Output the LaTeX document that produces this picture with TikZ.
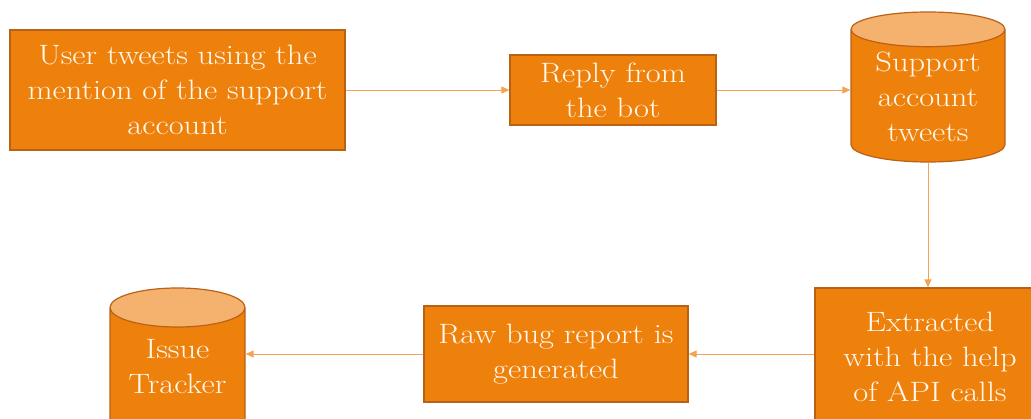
\documentclass[tikz,border=0pt]{standalone}
\usepackage{fontspec}
\setmainfont{Latin Modern Roman}[FakeStretch=1.16]
\usetikzlibrary{shapes.geometric,arrows.meta}
\definecolor{boxfill}{RGB}{238,128,12}
\definecolor{boxline}{RGB}{185,98,22}
\definecolor{capfill}{RGB}{245,178,110}
\definecolor{arrowcol}{RGB}{243,162,86}
\definecolor{boxtext}{RGB}{255,248,236}
% cylinder text: no height of its own, so only the minimum sizes count
\newcommand{\dbtext}[2][-7pt]{\raisebox{#1}[0pt][0pt]{\begin{tabular}{@{}c@{}}#2\end{tabular}}}
\begin{document}
\begin{tikzpicture}[x=1pt,y=-1pt,
    box/.style={draw=boxline,line width=1.2pt,fill=boxfill,text=boxtext,align=center,
        font=\fontsize{28}{35}\selectfont,inner sep=0pt},
    store/.style={cylinder,shape border rotate=90,aspect=0.4,draw=boxline,line width=1.2pt,
        cylinder uses custom fill,cylinder body fill=boxfill,cylinder end fill=capfill,
        text=boxtext,font=\fontsize{28}{35}\selectfont,inner sep=0pt,anchor=shape center},
    link/.style={draw=arrowcol,line width=0.8pt,-{Triangle[length=8pt,width=7pt]}}]
    \useasboundingbox (0,0) rectangle (1031,419);
    % top row
    \node[box,minimum width=335pt,minimum height=120pt] (mention) at (177.5,90) {User tweets using the\\mention of the support\\account};
    \node[box,minimum width=206pt,minimum height=70pt] (reply) at (613,90) {Reply from\\the bot};
    \node[store,aspect=0.33,minimum width=154pt,minimum height=150pt] (supdb) at (928,87) {\dbtext[-10pt]{Support\\account\\tweets}};
    % bottom row
    \node[box,minimum width=230pt,minimum height=138pt] (extract) at (930,357) {Extracted\\with the help\\of API calls};
    \node[box,minimum width=264pt,minimum height=96pt] (rawbug) at (556,354) {Raw bug report is\\generated};
    \node[store,minimum width=135pt,minimum height=150pt] (tracker) at (177.5,363) {\dbtext[-2pt]{Issue\\Tracker}};
    % links
    \draw[link] (mention) -- (reply);
    \draw[link] (reply) -- (reply -| supdb.west);
    \draw[link] (supdb.south) -- (supdb.south |- extract.north);
    \draw[link] (extract.west |- rawbug) -- (rawbug);
    \draw[link] (rawbug) -- (rawbug -| tracker.east);
\end{tikzpicture}
\end{document}
